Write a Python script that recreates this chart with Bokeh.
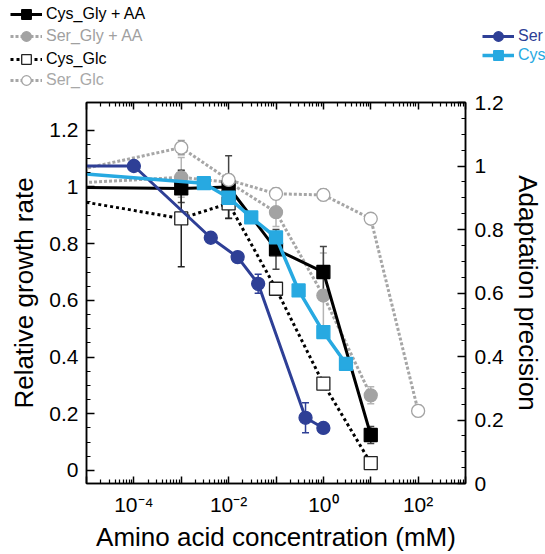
from bokeh.plotting import figure
from bokeh.layouts import column, row
from bokeh.models import (Range1d, LinearAxis, LogAxis, FixedTicker, ColumnDataSource,
                          Whisker, TeeHead, Legend, LegendItem)
from bokeh.embed import file_html
from bokeh.resources import INLINE

# ---------------- data ----------------
# left axis (Relative growth rate)
cys_gly_x = [1e-6, 1e-3, 1e-2, 1e-1, 1.0, 10.0]
cys_gly_y = [1.0, 0.995, 1.0, 0.78, 0.70, 0.125]
cys_gly_e = [0, 0.05, 0.11, 0.07, 0.09, 0.03]

ser_gly_x = [1e-6, 1e-3, 1e-2, 1e-1, 1.0, 10.0]
ser_gly_y = [1.007, 1.034, 1.017, 0.911, 0.617, 0.265]
ser_gly_e = [0, 0.07, 0.02, 0.05, 0.15, 0.03]

cys_glc_x = [1e-6, 1e-3, 1e-2, 1e-1, 1.0, 10.0]
cys_glc_y = [0.974, 0.889, 0.942, 0.641, 0.306, 0.026]
cys_glc_e = [0, 0.17, 0.053, 0.02, 0.02, 0.02]

ser_glc_x = [1e-6, 1e-3, 1e-2, 1e-1, 1.0, 10.0, 100.0]
ser_glc_y = [1.03, 1.139, 1.025, 0.976, 0.972, 0.888, 0.21]
ser_glc_e = [0, 0.025, 0.02, 0.02, 0.02, 0, 0.02]

# right axis (Adaptation precision)
ser_x = [1e-6, 1e-4, 0.0042, 0.0155, 0.042, 0.42, 1.0]
ser_y = [1.0, 1.0, 0.774, 0.713, 0.629, 0.207, 0.175]
ser_e = [0, 0, 0.015, 0.015, 0.03, 0.047, 0.01]

cys_x = [1e-6, 0.003, 0.01, 0.03, 0.1, 0.3, 1.0, 3.0]
cys_y = [0.986, 0.946, 0.90, 0.838, 0.775, 0.608, 0.477, 0.377]

x_decades = [1e-5, 1e-4, 1e-3, 1e-2, 1e-1, 1.0, 10.0, 100.0, 1000.0]
x_tick_labels = ["", "10\u207b\u2074", "", "10\u207b\u00b2", "", "10\u2070", "", "10\u00b2", ""]
y_ticks = [0, 0.2, 0.4, 0.6, 0.8, 1, 1.2]
y_tick_labels = ["0", "0.2", "0.4", "0.6", "0.8", "1", "1.2"]

FONT = "Liberation Sans"
BLUE_DARK = "#2e3f96"
BLUE_LIGHT = "#27a9e1"
GRAY = "#a6a6a6"

LEG_H = 90
W, H = 545, 554

p = figure(width=W, height=H - LEG_H, x_axis_type="log",
           x_range=Range1d(1e-5, 1e3), y_range=Range1d(-0.046, 1.298),
           output_backend="svg", toolbar_location=None,
           min_border_left=86, min_border_right=76, min_border_top=102 - LEG_H, min_border_bottom=71)
p.extra_y_ranges = {"right": Range1d(0, 1.2)}
p.grid.visible = False
p.outline_line_color = "black"
p.outline_line_width = 1.5
p.background_fill_color = "white"

minor_x = []
for d in x_decades[:-1]:
    for k in range(2, 10):
        minor_x.append(k * d)
minor_y = [i * 0.05 for i in range(0, 25) if i % 4 != 0]


def style_axis(ax, major_in=8, minor_in=4):
    ax.axis_line_width = 1.5
    ax.axis_line_color = "black"
    ax.major_tick_line_width = 1.5
    ax.minor_tick_line_width = 1.2
    ax.major_tick_in = major_in
    ax.major_tick_out = 0
    ax.minor_tick_in = minor_in
    ax.minor_tick_out = 0
    ax.major_label_text_font = FONT
    ax.major_label_text_font_size = "21px"
    ax.major_label_text_color = "black"
    ax.axis_label_text_font = FONT
    ax.axis_label_text_font_size = "26px"
    ax.axis_label_text_font_style = "normal"
    ax.axis_label_text_color = "black"


xt = FixedTicker(ticks=x_decades, minor_ticks=minor_x)
bx = p.xaxis[0]
bx.ticker = xt
bx.major_label_overrides = dict(zip(x_decades, x_tick_labels))
bx.axis_label = "Amino acid concentration (mM)"
style_axis(bx, 7, 4)
bx.major_label_standoff = 9
bx.axis_label_standoff = 3

tx = LogAxis(ticker=xt)
style_axis(tx, 7, 4)
tx.major_label_overrides = {d: "" for d in x_decades}
tx.major_label_text_font_size = "1px"
tx.major_label_standoff = 0
p.add_layout(tx, "above")

ly = p.yaxis[0]
ly.ticker = FixedTicker(ticks=y_ticks, minor_ticks=minor_y)
ly.major_label_overrides = dict(zip(y_ticks, y_tick_labels))
ly.axis_label = "Relative growth rate"
style_axis(ly)
ly.major_label_standoff = 8
ly.axis_label_standoff = 7

ry = LinearAxis(y_range_name="right", ticker=FixedTicker(ticks=y_ticks, minor_ticks=minor_y))
ry.major_label_overrides = dict(zip(y_ticks, y_tick_labels))
ry.axis_label = "Adaptation precision"
style_axis(ry)
ry.major_label_standoff = 9
ry.axis_label_standoff = 6
p.add_layout(ry, "right")

# legend strip above the plot (its ranges lie far from the data, so only legend glyphs show)
leg = figure(width=W, height=LEG_H, x_range=Range1d(1e6, 2e6), y_range=Range1d(5, 6),
             output_backend="svg", toolbar_location=None,
             x_axis_location=None, y_axis_location=None, min_border=0)
leg.grid.visible = False
leg.outline_line_color = None


def series(x, y, err, color, dash, lw, marker, size, fill, mline, ecolor, yr=None):
    kw = {} if yr is None else {"y_range_name": yr}
    if err is not None:
        ex = [a for a, e in zip(x, err) if e > 0]
        eu = [b + e for b, e in zip(y, err) if e > 0]
        el = [b - e for b, e in zip(y, err) if e > 0]
        es = ColumnDataSource(dict(x=ex, upper=eu, lower=el))
        w = Whisker(base="x", upper="upper", lower="lower", source=es,
                    line_color=ecolor, line_width=1.5, level="underlay",
                    upper_head=TeeHead(size=7, line_color=ecolor, line_width=1.5),
                    lower_head=TeeHead(size=7, line_color=ecolor, line_width=1.5), **kw)
        p.add_layout(w)
    src = ColumnDataSource(dict(x=x, y=y))
    lkw = dict(line_color=color, line_width=lw)
    if dash:
        lkw["line_dash"] = dash
    skw = dict(marker=marker, size=size, fill_color=fill, line_color=mline, line_width=1.3)
    p.line("x", "y", source=src, **lkw, **kw)
    p.scatter("x", "y", source=src, **skw, **kw)
    ln = leg.line("x", "y", source=src, **lkw)
    sc = leg.scatter("x", "y", source=src, **skw)
    return [ln, sc]


r_ser_gly = series(ser_gly_x, ser_gly_y, ser_gly_e, GRAY, "3 2", 3, "circle", 13, "#a3a3a3", "#a3a3a3", "#b5b5b5")
r_cys_gly = series(cys_gly_x, cys_gly_y, cys_gly_e, "black", None, 3, "square", 13, "black", "black", "#444444")
r_cys_glc = series(cys_glc_x, cys_glc_y, cys_glc_e, "black", "3 3", 3, "square", 13, "white", "#222222", "#222222")
r_ser_glc = series(ser_glc_x, ser_glc_y, ser_glc_e, GRAY, "3 2", 3, "circle", 13, "white", "#a3a3a3", "#9a9a9a")
r_ser = series(ser_x, ser_y, ser_e, BLUE_DARK, None, 3, "circle", 13, BLUE_DARK, BLUE_DARK, BLUE_DARK, yr="right")
r_cys = series(cys_x, cys_y, None, BLUE_LIGHT, None, 3.5, "square", 13, BLUE_LIGHT, BLUE_LIGHT, BLUE_LIGHT, yr="right")


def add_legend(label, rs, color, x_left, y_center):
    lg = Legend(items=[LegendItem(label=label, renderers=rs)],
                location=(x_left, LEG_H - y_center - 12),
                background_fill_alpha=0, border_line_alpha=0, padding=0, margin=0,
                glyph_width=32, glyph_height=24, label_height=24, label_standoff=4,
                label_text_font=FONT, label_text_font_size="16px", label_text_color=color)
    leg.add_layout(lg, "center")


add_legend("Cys_Gly + AA", r_cys_gly, "black", 10, 14)
add_legend("Ser_Gly + AA", r_ser_gly, "#a0a0a0", 10, 36)
add_legend("Cys_Glc", r_cys_glc, "black", 10, 59)
add_legend("Ser_Glc", r_ser_glc, "#a8a8a8", 10, 80)
add_legend("Ser", r_ser, BLUE_DARK, 482, 36)
add_legend("Cys", r_cys, BLUE_LIGHT, 482, 55)

layout = column(row(leg), p, spacing=0)
open("out.html", "w").write(file_html(layout, INLINE))
